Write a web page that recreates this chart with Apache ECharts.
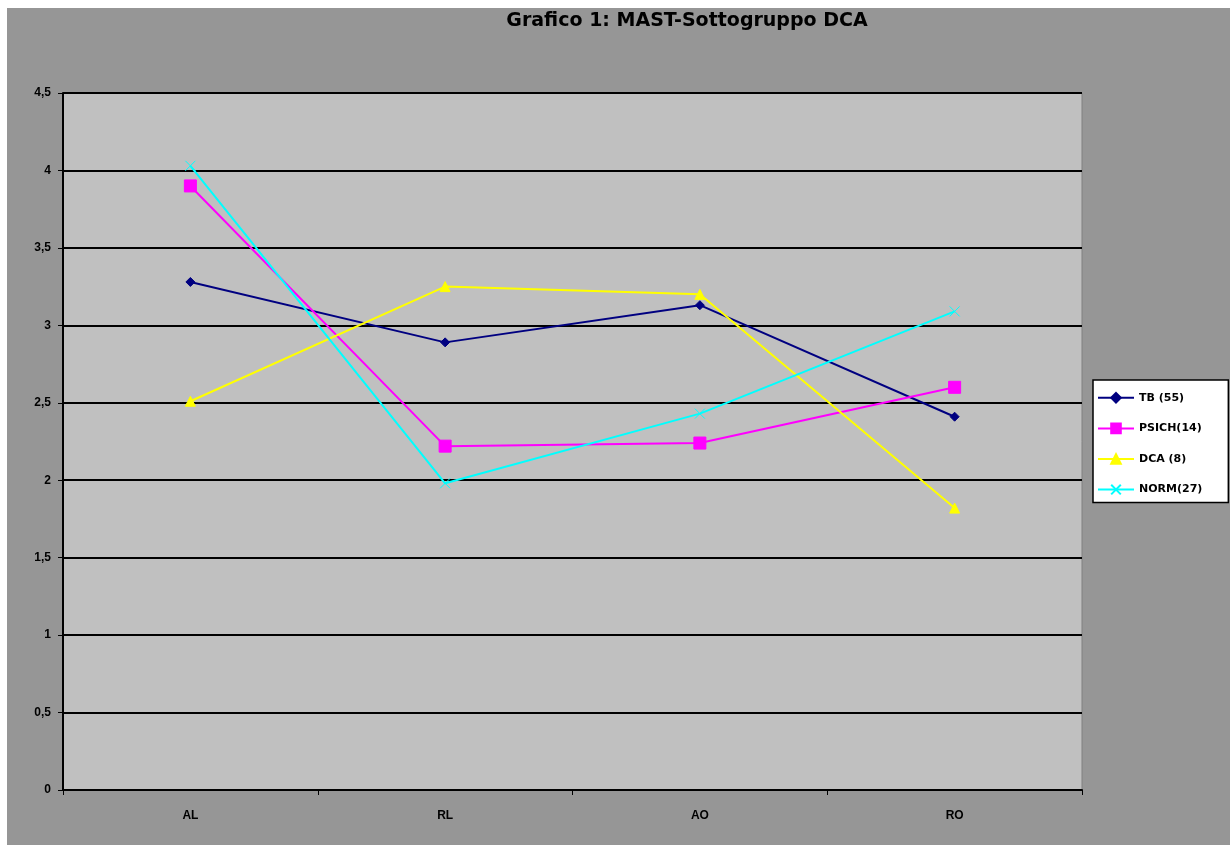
<!DOCTYPE html>
<html>
<head>
<meta charset="utf-8">
<script src="https://cdn.jsdelivr.net/npm/echarts@6/dist/echarts.min.js"></script>
<style>
  html, body { margin: 0; padding: 0; background: #ffffff; }
  #chart { width: 1230px; height: 845px; }
</style>
</head>
<body>
<div id="chart"></div>
<script>
// Categories on the x axis
var categories = ['AL', 'RL', 'AO', 'RO'];

// Mean scores per group
var tb = [3.28, 2.89, 3.13, 2.41];
var psich = [3.90, 2.22, 2.24, 2.60];
var dca = [2.51, 3.25, 3.20, 1.82];
var norm = [4.03, 1.98, 2.43, 3.09];

// Series names shown in the legend
var seriesNames = ['TB (55)', 'PSICH(14)', 'DCA (8)', 'NORM(27)'];

var titleText = 'Grafico 1: MAST-Sottogruppo DCA';

var FONT = '"Liberation Sans", Arial, sans-serif';
var WIDE_FONT = '"DejaVu Sans", sans-serif';

function makeSeries(name, data, color, symbol, size, width) {
  return {
    name: name,
    type: 'line',
    data: data,
    symbol: symbol,
    symbolSize: size,
    showSymbol: true,
    animation: false,
    lineStyle: { color: color, width: width },
    itemStyle: { color: color, borderColor: color, borderWidth: 1 },
    emphasis: { disabled: true }
  };
}

var crossPath = 'path://M0 0L10 10M10 0L0 10';

var chart = echarts.init(document.getElementById('chart'), null, { renderer: 'canvas' });

chart.setOption({
  backgroundColor: '#ffffff',
  animation: false,
  graphic: [
    {
      type: 'rect',
      z: -10,
      shape: { x: 7, y: 8, width: 1223, height: 837 },
      style: { fill: '#969696' }
    },
    {
      type: 'text',
      z: 10,
      x: 687,
      y: 21,
      style: {
        text: titleText,
        fill: '#000000',
        font: 'bold 19px ' + WIDE_FONT,
        textAlign: 'center',
        textVerticalAlign: 'middle'
      }
    }
  ],
  grid: {
    left: 63,
    right: 148,
    top: 93,
    bottom: 55,
    show: true,
    backgroundColor: '#c0c0c0',
    borderColor: '#808080',
    borderWidth: 1
  },
  legend: {
    orient: 'vertical',
    left: 1093,
    top: 380,
    data: seriesNames,
    backgroundColor: '#ffffff',
    borderColor: '#000000',
    borderWidth: 1.5,
    padding: [12, 26, 7, 4],
    itemGap: 19,
    itemWidth: 36,
    itemHeight: 12,
    selectedMode: false,
    textStyle: { color: '#000000', fontFamily: WIDE_FONT, fontWeight: 'bold', fontSize: 11 }
  },
  xAxis: {
    type: 'category',
    data: categories,
    boundaryGap: true,
    axisLine: { lineStyle: { color: '#000000', width: 2 } },
    axisTick: { show: true, interval: 0, length: 5, lineStyle: { color: '#000000', width: 1 } },
    axisLabel: { color: '#000000', fontFamily: FONT, fontWeight: 'bold', fontSize: 12, margin: 20 },
    splitLine: { show: false }
  },
  yAxis: {
    type: 'value',
    min: 0,
    max: 4.5,
    interval: 0.5,
    axisLine: { show: true, lineStyle: { color: '#000000', width: 2 } },
    axisTick: { show: true, length: 5, lineStyle: { color: '#000000', width: 1 } },
    axisLabel: {
      color: '#000000', fontFamily: FONT, fontWeight: 'bold', fontSize: 12, margin: 12,
      formatter: function (v) { return String(v).replace('.', ','); }
    },
    splitLine: { show: true, lineStyle: { color: '#000000', width: 2 } }
  },
  series: [
    makeSeries(seriesNames[0], tb, '#000080', 'diamond', 9, 2),
    makeSeries(seriesNames[1], psich, '#ff00ff', 'rect', 12, 2),
    makeSeries(seriesNames[2], dca, '#ffff00', 'triangle', 10, 2),
    makeSeries(seriesNames[3], norm, '#00ffff', crossPath, 10, 2)
  ]
});
</script>
</body>
</html>
